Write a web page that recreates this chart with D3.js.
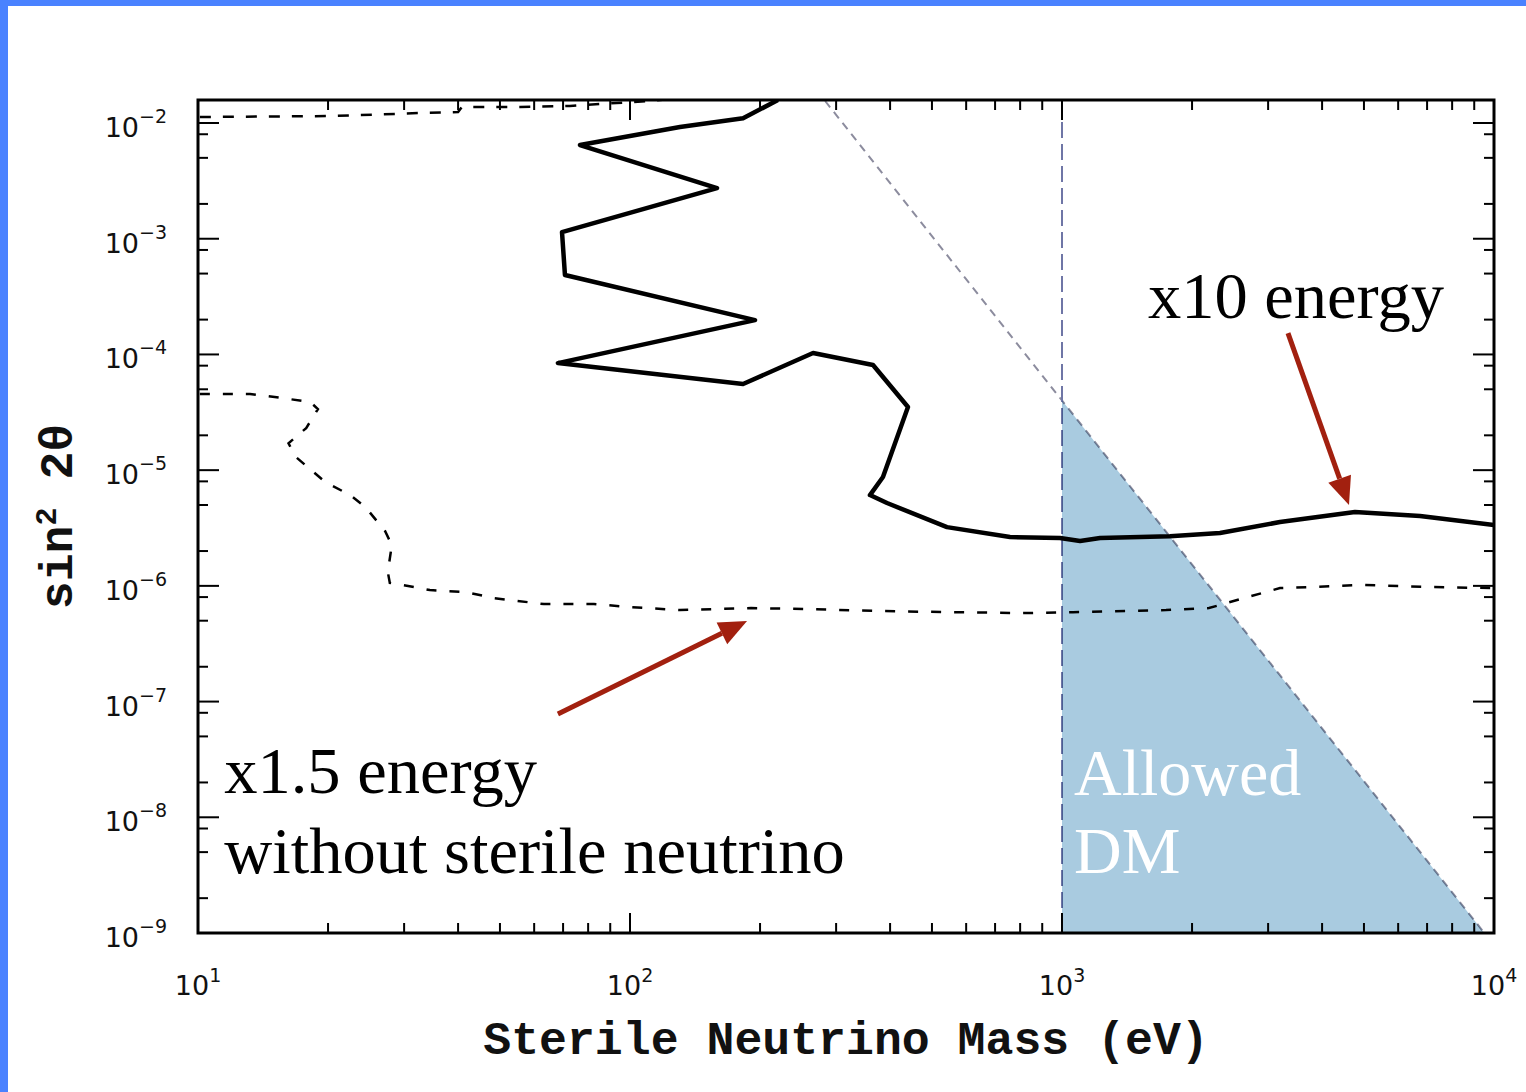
<!DOCTYPE html>
<html>
<head>
<meta charset="utf-8">
<script src="https://cdn.jsdelivr.net/npm/d3@7/dist/d3.min.js"></script>
<style>
  html, body { margin: 0; padding: 0; background: #ffffff; }
  svg { display: block; }
</style>
</head>
<body>
<svg id="chart" width="1526" height="1092"></svg>
<script>
// ---- data (mass in eV, sin^2 2theta) ----
const curveX10 = [
  [220, 1.58e-2], [182.7, 1.10e-2], [130.5, 9.23e-3], [76.6, 6.45e-3],
  [159, 2.74e-3], [69.6, 1.14e-3], [70.7, 4.86e-4], [194.7, 1.98e-4],
  [68.1, 8.42e-5], [182.7, 5.55e-5], [265.3, 1.03e-4], [365.2, 8.10e-5],
  [440, 3.51e-5], [385.1, 8.72e-6], [359.3, 6.09e-6], [393.5, 5.20e-6],
  [541.7, 3.22e-6], [757.9, 2.64e-6], [989.5, 2.59e-6], [1101, 2.44e-6],
  [1225, 2.59e-6], [1778, 2.69e-6], [2321, 2.86e-6], [3196, 3.56e-6],
  [4766, 4.35e-6], [6742, 4.01e-6], [10000, 3.35e-6]
];
const curveX15 = [
  [10.1, 4.55e-5], [13.2, 4.55e-5], [15.65, 4.20e-5], [18.2, 3.88e-5],
  [18.95, 3.37e-5], [17.8, 2.31e-5], [16.2, 1.71e-5], [16.77, 1.32e-5],
  [17.7, 1.11e-5], [19.7, 7.89e-6], [22.5, 6.09e-6], [24.4, 4.80e-6],
  [27.1, 2.98e-6], [28.1, 2.25e-6], [27.5, 1.32e-6], [27.8, 1.06e-6],
  [29.7, 1.02e-6], [34.4, 9.2e-7], [41.7, 8.84e-7], [48.4, 7.84e-7],
  [63.2, 6.96e-7], [82.5, 6.96e-7], [100, 6.56e-7], [130.5, 6.18e-7],
  [190.6, 6.43e-7], [259.7, 6.30e-7], [379, 6.06e-7], [553, 5.93e-7],
  [812, 5.82e-7], [1060, 5.93e-7], [1741, 6.18e-7], [2189, 6.43e-7],
  [2638, 7.84e-7], [3196, 9.57e-7], [3731, 9.76e-7], [4949, 1.02e-6],
  [7262, 9.76e-7], [10000, 9.57e-7]
];
const curveTop = [
  [10.1, 1.127e-2], [20.2, 1.149e-2], [32.7, 1.22e-2], [40.0, 1.245e-2],
  [40.8, 1.375e-2], [55.7, 1.375e-2], [72.6, 1.403e-2], [85.2, 1.459e-2],
  [111.2, 1.55e-2], [137.7, 1.68e-2]
];
// X-ray upper bound and lower mass bound of the allowed DM region
const xrayBound = [[283, 1.55e-2], [1000, 4.0e-5], [9500, 1e-9]];
const massLowerBound = 1000;

// axis ticks
const xDecades = [1, 2, 3, 4];
const yDecades = [-2, -3, -4, -5, -6, -7, -8, -9];
const xMinorMultipliers = [2, 3, 4, 5, 6, 7, 8, 9];
const yMinorMultipliers = [2, 5, 8];

// annotations (data coordinates)
const arrows = [
  { from: [3335, 1.53e-4], to: [4617, 4.99e-6] },
  { from: [68.1, 7.8e-8], to: [186.6, 4.97e-7] }
];
const labelsDark = [
  { text: "x10 energy", at: [1581, 2.06e-4] },
  { text: "x1.5 energy", at: [11.5, 1.62e-8] },
  { text: "without sterile neutrino", at: [11.5, 3.3e-9] }
];
const labelsLight = [
  { text: "Allowed", at: [1066, 1.56e-8] },
  { text: "DM", at: [1066, 3.3e-9] }
];

// ---- layout ----
const svg = d3.select("#chart");
const W = 1526, H = 1092;
const plot = { left: 198, right: 1494, top: 100, bottom: 933 };

const x = d3.scaleLog().domain([10, 1e4]).range([plot.left, plot.right]);
const y = d3.scaleLog().domain([1e-9, Math.pow(10, -1.801)]).range([plot.bottom, plot.top]);

// page frame
svg.append("rect").attr("x", 0).attr("y", 0).attr("width", W).attr("height", H).attr("fill", "#ffffff");
svg.append("rect").attr("x", 0).attr("y", 0).attr("width", W).attr("height", 6).attr("fill", "#4a82ff");
svg.append("rect").attr("x", 0).attr("y", 0).attr("width", 8).attr("height", H).attr("fill", "#4a82ff");

svg.append("clipPath").attr("id", "plotClip")
  .append("rect")
  .attr("x", plot.left).attr("y", plot.top)
  .attr("width", plot.right - plot.left).attr("height", plot.bottom - plot.top);

const g = svg.append("g").attr("clip-path", "url(#plotClip)");
const line = d3.line().x(d => x(d[0])).y(d => y(d[1]));

// bounds
g.append("path").datum(xrayBound).attr("d", line)
  .attr("fill", "none").attr("stroke", "#8c8c9e").attr("stroke-width", 2)
  .attr("stroke-dasharray", "8,6");
g.append("line")
  .attr("x1", x(massLowerBound)).attr("x2", x(massLowerBound))
  .attr("y1", plot.top).attr("y2", plot.bottom)
  .attr("stroke", "#6f76a6").attr("stroke-width", 2).attr("stroke-dasharray", "16,6");

// sensitivity curves
g.append("path").datum(curveTop).attr("d", line)
  .attr("fill", "none").attr("stroke", "#000").attr("stroke-width", 2.5)
  .attr("stroke-dasharray", "11,12");
g.append("path").datum(curveX15).attr("d", line)
  .attr("fill", "none").attr("stroke", "#000").attr("stroke-width", 2.5)
  .attr("stroke-dasharray", "10,13");
g.append("path").datum(curveX10).attr("d", line)
  .attr("fill", "none").attr("stroke", "#000").attr("stroke-width", 4.5)
  .attr("stroke-linejoin", "round");

// allowed DM region
const allowed = [
  [massLowerBound, xrayBound[1][1]],
  xrayBound[2],
  [massLowerBound, 1e-9]
];
g.append("path").datum(allowed).attr("d", d => line(d) + "Z")
  .attr("fill", "#a9cbe0").style("mix-blend-mode", "multiply");

// ---- axes frame & ticks ----
const axes = svg.append("g");
axes.append("rect")
  .attr("x", plot.left).attr("y", plot.top)
  .attr("width", plot.right - plot.left).attr("height", plot.bottom - plot.top)
  .attr("fill", "none").attr("stroke", "#000").attr("stroke-width", 3);

const xTicks = [];
xDecades.forEach(e => {
  xTicks.push({ v: Math.pow(10, e), major: true });
  if (e < 4) xMinorMultipliers.forEach(m => xTicks.push({ v: m * Math.pow(10, e), major: false }));
});
const yTicks = [];
yDecades.forEach(e => {
  yTicks.push({ v: Math.pow(10, e), major: true });
  if (e > -9) yMinorMultipliers.forEach(m => yTicks.push({ v: m * Math.pow(10, e - 1), major: false }));
});

xTicks.forEach(t => {
  const px = x(t.v), len = t.major ? 20 : 10;
  axes.append("line").attr("x1", px).attr("x2", px).attr("y1", plot.bottom).attr("y2", plot.bottom - len)
    .attr("stroke", "#000").attr("stroke-width", 2);
  axes.append("line").attr("x1", px).attr("x2", px).attr("y1", plot.top).attr("y2", plot.top + len)
    .attr("stroke", "#000").attr("stroke-width", 2);
});
yTicks.forEach(t => {
  const py = y(t.v), len = t.major ? 21 : 10;
  axes.append("line").attr("x1", plot.left).attr("x2", plot.left + len).attr("y1", py).attr("y2", py)
    .attr("stroke", "#000").attr("stroke-width", 2);
  axes.append("line").attr("x1", plot.right).attr("x2", plot.right - len).attr("y1", py).attr("y2", py)
    .attr("stroke", "#000").attr("stroke-width", 2);
});

// tick labels
const tickFont = "'DejaVu Sans', Verdana, sans-serif";
xDecades.forEach(e => {
  const t = axes.append("text")
    .attr("x", x(Math.pow(10, e))).attr("y", 995)
    .attr("text-anchor", "middle")
    .attr("font-family", tickFont).attr("font-size", 27).attr("fill", "#111");
  t.append("tspan").text("10");
  t.append("tspan").attr("font-size", 19).attr("dy", -13).text(String(e));
});
yDecades.forEach(e => {
  const t = axes.append("text")
    .attr("x", 167).attr("y", y(Math.pow(10, e)) + 14)
    .attr("text-anchor", "end")
    .attr("font-family", tickFont).attr("font-size", 27).attr("fill", "#111");
  t.append("tspan").text("10");
  t.append("tspan").attr("font-size", 19).attr("dy", -14).text("\u2212" + Math.abs(e));
});

// axis titles
const titleFont = "'Liberation Mono', 'Courier New', monospace";
svg.append("text")
  .attr("x", (plot.left + plot.right) / 2).attr("y", 1054)
  .attr("text-anchor", "middle")
  .attr("font-family", titleFont).attr("font-weight", "bold").attr("font-size", 46.5)
  .attr("fill", "#111")
  .text("Sterile Neutrino Mass (eV)");

const yTitle = svg.append("text")
  .attr("transform", `translate(72,${(plot.top + plot.bottom) / 2}) rotate(-90)`)
  .attr("text-anchor", "middle")
  .attr("font-family", titleFont).attr("font-weight", "bold").attr("font-size", 46.5)
  .attr("fill", "#111");
yTitle.append("tspan").text("sin");
yTitle.append("tspan").attr("font-size", 30).attr("dy", -16).text("2");
yTitle.append("tspan").attr("dy", 16).text(" 2\u03b8");

// ---- annotations ----
const annot = svg.append("g");
const serif = "'Liberation Serif', 'Times New Roman', serif";
labelsLight.forEach(l => {
  annot.append("text").attr("x", x(l.at[0])).attr("y", y(l.at[1]))
    .attr("font-family", serif).attr("font-size", 66).attr("fill", "#ffffff")
    .text(l.text);
});
labelsDark.forEach(l => {
  annot.append("text").attr("x", x(l.at[0])).attr("y", y(l.at[1]))
    .attr("font-family", serif).attr("font-size", 66.5).attr("fill", "#000")
    .text(l.text);
});

const arrowColor = "#a2200f";
arrows.forEach(a => {
  const x0 = x(a.from[0]), y0 = y(a.from[1]);
  const x1 = x(a.to[0]), y1 = y(a.to[1]);
  const ang = Math.atan2(y1 - y0, x1 - x0);
  const headLen = 28, headHalf = 12;
  const bx = x1 - headLen * Math.cos(ang), by = y1 - headLen * Math.sin(ang);
  annot.append("line").attr("x1", x0).attr("y1", y0).attr("x2", bx).attr("y2", by)
    .attr("stroke", arrowColor).attr("stroke-width", 5);
  const px = -Math.sin(ang), py = Math.cos(ang);
  annot.append("polygon")
    .attr("points", [
      [x1, y1],
      [bx + headHalf * px, by + headHalf * py],
      [bx - headHalf * px, by - headHalf * py]
    ].map(p => p.join(",")).join(" "))
    .attr("fill", arrowColor);
});
</script>
</body>
</html>
